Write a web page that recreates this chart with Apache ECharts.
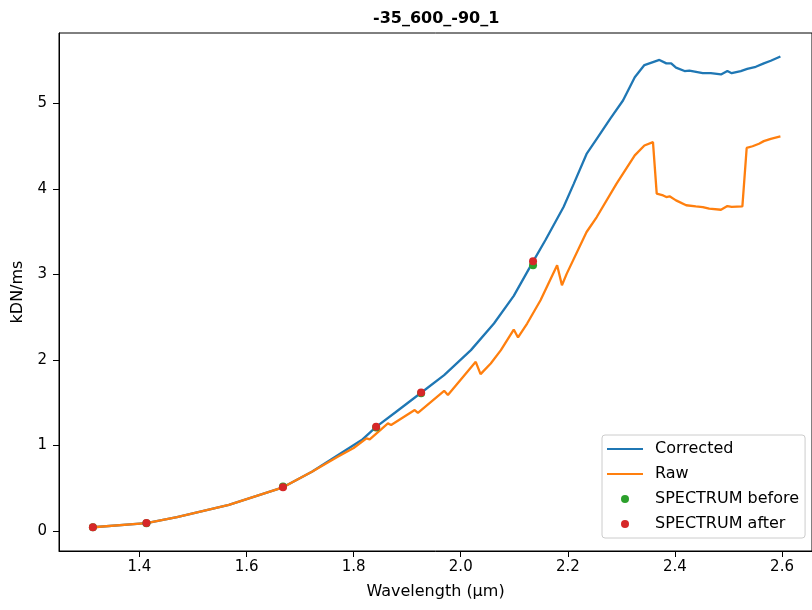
<!DOCTYPE html>
<html>
<head>
<meta charset="utf-8">
<script src="https://cdn.jsdelivr.net/npm/echarts@6/dist/echarts.min.js"></script>
<style>html,body{margin:0;padding:0;background:#fff}#c{width:812px;height:610px}</style>
</head>
<body>
<div id="c"></div>
<script>
const chartTitle = '-35_600_-90_1';
const xTicks = [1.4, 1.6, 1.8, 2.0, 2.2, 2.4, 2.6];
const yTicks = [0, 1, 2, 3, 4, 5];

const correctedX = [1.313,1.413,1.47,1.567,1.668,1.722,1.771,1.815,1.842,1.877,1.926,1.969,2.019,2.062,2.099,2.135,2.158,2.192,2.211,2.235,2.254,2.279,2.303,2.325,2.343,2.371,2.384,2.393,2.402,2.418,2.427,2.452,2.467,2.486,2.498,2.506,2.523,2.535,2.551,2.566,2.579,2.597];
const correctedY = [0.043,0.09,0.16,0.304,0.51,0.693,0.888,1.063,1.218,1.382,1.616,1.822,2.115,2.426,2.75,3.15,3.40,3.79,4.06,4.41,4.587,4.82,5.035,5.307,5.45,5.51,5.47,5.47,5.42,5.38,5.386,5.355,5.355,5.34,5.38,5.355,5.38,5.405,5.43,5.47,5.50,5.55];

const rawX = [1.313,1.413,1.47,1.567,1.668,1.722,1.771,1.80,1.824,1.83,1.864,1.870,1.914,1.920,1.969,1.976,2.028,2.037,2.056,2.075,2.099,2.107,2.124,2.149,2.180,2.189,2.198,2.235,2.254,2.291,2.325,2.343,2.359,2.366,2.378,2.384,2.390,2.402,2.421,2.439,2.452,2.464,2.486,2.498,2.506,2.526,2.534,2.545,2.557,2.566,2.579,2.597];
const rawY = [0.043,0.09,0.16,0.304,0.51,0.693,0.87,0.97,1.083,1.07,1.258,1.238,1.414,1.382,1.639,1.589,1.978,1.834,1.959,2.115,2.356,2.263,2.426,2.699,3.107,2.874,3.01,3.497,3.672,4.062,4.393,4.509,4.548,3.945,3.925,3.906,3.914,3.867,3.81,3.797,3.789,3.77,3.757,3.80,3.79,3.797,4.48,4.50,4.53,4.56,4.587,4.615];

const spectrumX = [1.313,1.413,1.668,1.842,1.926,2.135];
const beforeY = [0.043,0.09,0.52,1.21,1.61,3.107];
const afterY = [0.043,0.093,0.51,1.218,1.62,3.154];

const zip = (xs, ys) => xs.map((x, i) => [x, ys[i]]);
const FONT = 'DejaVu Sans';
const lineIcon = 'path://M0,0L36,0L36,2.2L0,2.2Z';

const chart = echarts.init(document.getElementById('c'), null, {renderer: 'canvas'});
chart.setOption({
  animation: false,
  backgroundColor: '#fff',
  title: {
    text: chartTitle,
    left: 368, top: 6,
    textStyle: {fontFamily: FONT, fontSize: 16, fontWeight: 'bold', color: '#000'}
  },
  grid: {
    left: 59, top: 33, right: -5, bottom: 59,
    show: true, borderColor: '#000', borderWidth: 1, backgroundColor: 'transparent'
  },
  xAxis: {
    type: 'value', min: 1.2497, max: 2.656,
    name: 'Wavelength (µm)', nameLocation: 'middle', nameGap: 33,
    nameTextStyle: {fontFamily: FONT, fontSize: 16, color: '#000'},
    axisLine: {show: true, onZero: false, lineStyle: {color: '#000', width: 1}},
    axisTick: {show: true, length: 6, lineStyle: {color: '#000'}, customValues: xTicks},
    axisLabel: {fontFamily: FONT, fontSize: 15, color: '#000', margin: 9, customValues: xTicks,
      formatter: v => v.toFixed(1)},
    splitLine: {show: false}
  },
  yAxis: {
    type: 'value', min: -0.235, max: 5.825,
    name: 'kDN/ms', nameLocation: 'middle', nameGap: 33, nameRotate: 90,
    nameTextStyle: {fontFamily: FONT, fontSize: 16, color: '#000'},
    axisLine: {show: true, onZero: false, lineStyle: {color: '#000', width: 1}},
    axisTick: {show: true, length: 6, lineStyle: {color: '#000'}, customValues: yTicks},
    axisLabel: {fontFamily: FONT, fontSize: 15, color: '#000', margin: 12, customValues: yTicks,
      formatter: v => String(Math.round(v))},
    splitLine: {show: false}
  },
  legend: {
    orient: 'vertical', left: 602, top: 435,
    padding: [5, 6, 5, 5],
    itemWidth: 36, itemHeight: 8, itemGap: 7,
    backgroundColor: 'rgba(255,255,255,0.8)',
    borderColor: '#ccc', borderWidth: 1, borderRadius: 3,
    textStyle: {fontFamily: FONT, fontSize: 16, color: '#000', lineHeight: 18, padding: [0, 0, 0, 7]},
    data: [
      {name: 'Corrected', icon: lineIcon},
      {name: 'Raw', icon: lineIcon},
      {name: 'SPECTRUM before', icon: 'circle'},
      {name: 'SPECTRUM after', icon: 'circle'}
    ]
  },
  series: [
    {name: 'Corrected', type: 'line', data: zip(correctedX, correctedY), showSymbol: false, symbol: 'none',
      lineStyle: {color: '#1f77b4', width: 2.3}, itemStyle: {color: '#1f77b4'}, z: 2},
    {name: 'Raw', type: 'line', data: zip(rawX, rawY), showSymbol: false, symbol: 'none',
      lineStyle: {color: '#ff7f0e', width: 2.3}, itemStyle: {color: '#ff7f0e'}, z: 3},
    {name: 'SPECTRUM before', type: 'scatter', data: zip(spectrumX, beforeY), symbolSize: 8,
      itemStyle: {color: '#2ca02c', opacity: 1}, z: 4},
    {name: 'SPECTRUM after', type: 'scatter', data: zip(spectrumX, afterY), symbolSize: 8,
      itemStyle: {color: '#d62728', opacity: 1}, z: 5}
  ]
});
</script>
</body>
</html>
